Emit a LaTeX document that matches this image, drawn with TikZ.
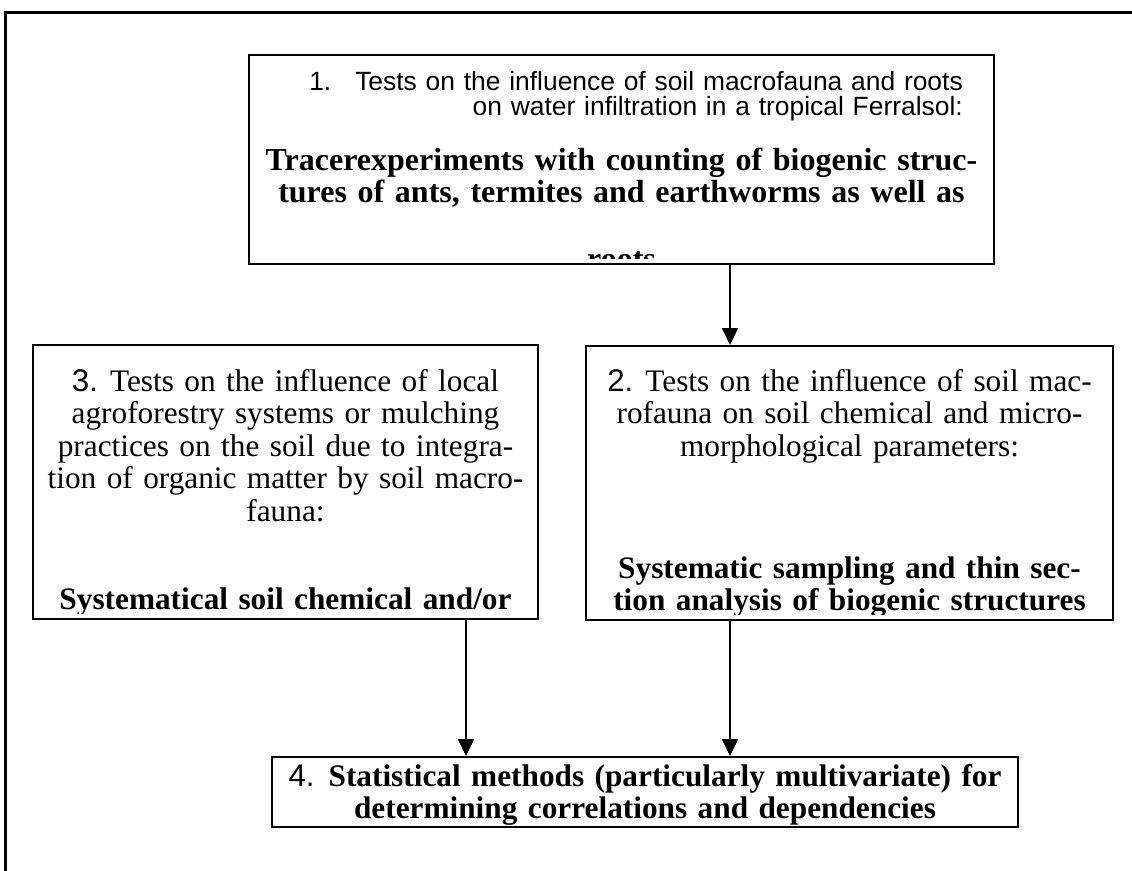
\documentclass[tikz,border=0pt]{standalone}
\usepackage{fontspec}
\setmainfont{Liberation Serif}
\newfontfamily\arialfont{Liberation Sans}
\usetikzlibrary{arrows.meta}
\newcommand{\bodyfont}{\fontsize{31.3}{32.5}\selectfont}
\newcommand{\headfont}{\arialfont\fontsize{26.4}{25}\selectfont}

\begin{document}
\begin{tikzpicture}[
            x=1pt, y=-1pt,
            box/.style = {draw=black, line width=2pt, inner sep=0pt},
            txt/.style = {anchor=base, align=center, inner sep=0pt, font=\bodyfont},
            flow/.style = {line width=2pt, -{Triangle[width=16pt,length=17pt]}}
          ]
          \useasboundingbox (0,0) rectangle (1132,870);
          \clip (0,0) rectangle (1132,870);
          \node[box, line width=2.5pt, anchor=north west, minimum width=1300pt, minimum height=1000pt] (frame) at (4,11) {};

          \node[box, minimum width=745pt, minimum height=209pt] (tests1) at (621.5,159.5) {};
          \node[box, minimum width=527pt, minimum height=274pt] (tests2) at (849.5,483) {};
          \node[box, minimum width=505pt, minimum height=274pt] (tests3) at (285.5,482) {};
          \node[box, minimum width=746pt, minimum height=70pt] (stats) at (645,792) {};

          \begin{scope}
            \clip ([yshift=7pt]tests1.south west) rectangle (tests1.north east);
            \node[txt, anchor=base east, align=right, text width=720pt, font=\headfont] (head1) at (963,90)
              {1.\hspace{24pt}Tests on the influence of soil macrofauna and roots\\
               on water infiltration in a tropical Ferralsol:};
            \node[txt, text width=740pt, font=\bfseries\fontsize{32}{32}\selectfont] (body1) at (621.5,170)
              {Tracerexperiments with counting of biogenic struc-\\
               tures of ants, termites and earthworms as well as\\[35pt]
               roots};
          \end{scope}

          \begin{scope}
            \clip ([yshift=7pt]tests2.south west) rectangle (tests2.north east);
            \node[txt, text width=520pt] (body2) at (849.5,391)
              {{\arialfont 2.}\hspace{12pt}Tests on the influence of soil mac-\\
               rofauna on soil chemical and micro-\\
               morphological parameters:\\[89.5pt]
               \textbf{Systematic sampling and thin sec-}\\
               \textbf{tion analysis of biogenic structures}};
          \end{scope}

          \begin{scope}
            \clip ([yshift=7pt]tests3.south west) rectangle (tests3.north east);
            \node[txt, text width=500pt] (body3) at (285.5,391)
              {{\arialfont 3.}\hspace{12pt}Tests on the influence of local\\
               agroforestry systems or mulching\\
               practices on the soil due to integra-\\
               tion of organic matter by soil macro-\\
               fauna:\\[56pt]
               \textbf{Systematical soil chemical and/or}};
          \end{scope}

          \node[txt, text width=740pt] (body4) at (645,786)
            {{\arialfont 4.}\hspace{14pt}\textbf{Statistical methods (particularly multivariate) for}\\
             \textbf{determining correlations and dependencies}};

          \coordinate (lane1) at (730,0);
          \coordinate (lane2) at (466,0);
          \draw[flow] (tests1.south -| lane1) -- (tests2.north -| lane1);
          \draw[flow] (tests2.south -| lane1) -- (stats.north -| lane1);
          \draw[flow] (tests3.south -| lane2) -- (stats.north -| lane2);
        \end{tikzpicture}
\end{document}
